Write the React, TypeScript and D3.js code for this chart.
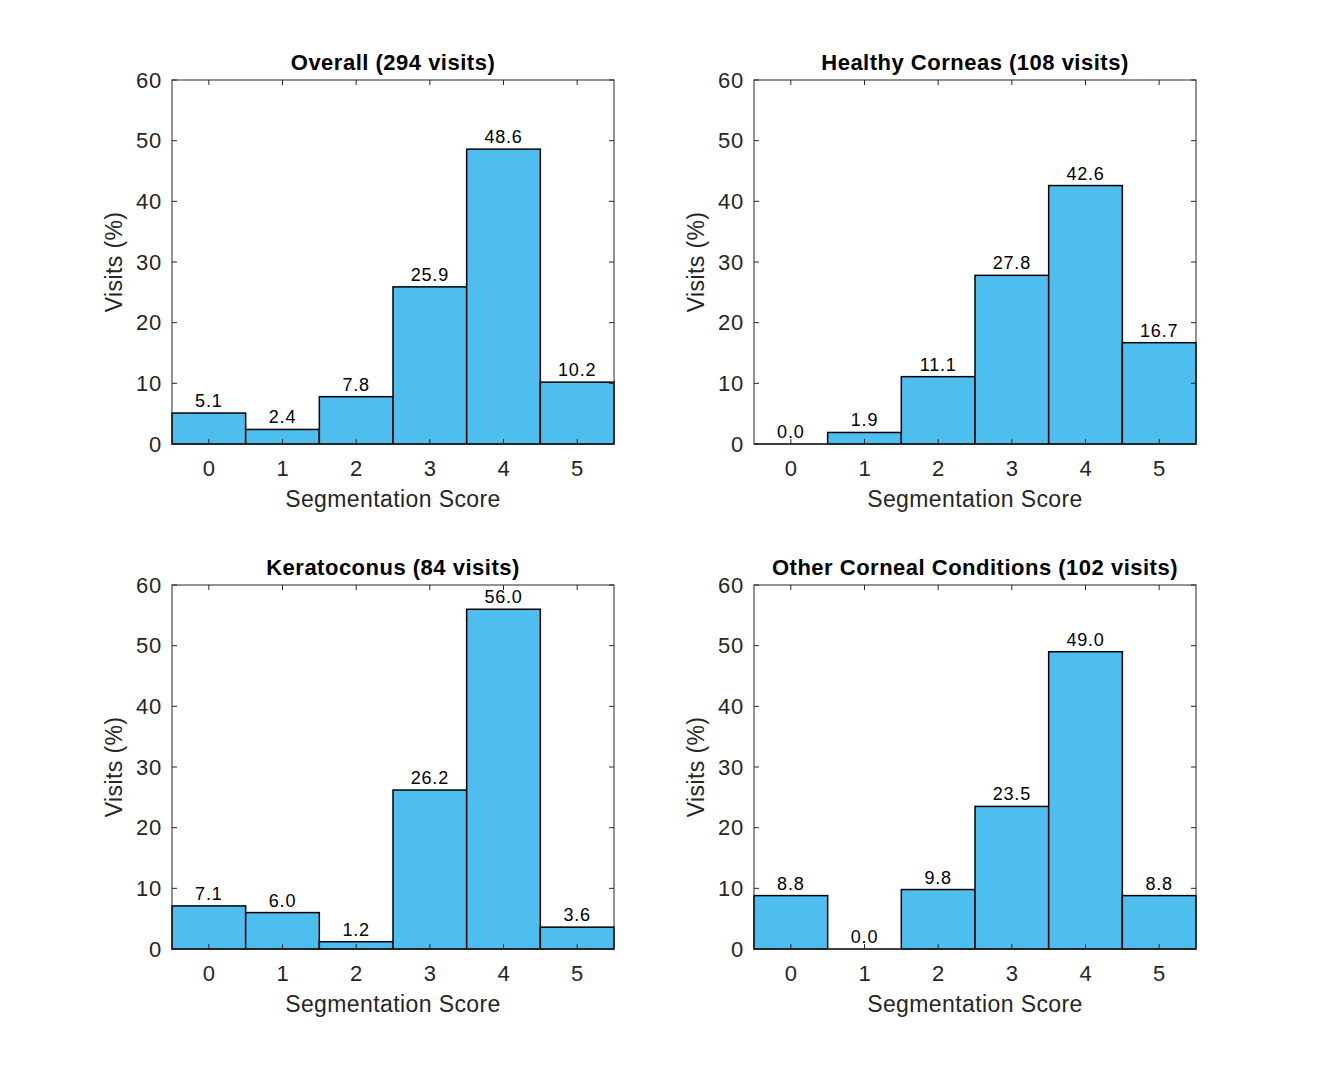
import React from "react";
import * as d3 from "d3";

const scores = [0, 1, 2, 3, 4, 5];
const yTicks = [0, 10, 20, 30, 40, 50, 60];
const titles = [
  "Overall (294 visits)",
  "Healthy Corneas (108 visits)",
  "Keratoconus (84 visits)",
  "Other Corneal Conditions (102 visits)",
];
const overall = [5.1, 2.4, 7.8, 25.9, 48.6, 10.2];
const healthy = [0.0, 1.9, 11.1, 27.8, 42.6, 16.7];
const keratoconus = [7.1, 6.0, 1.2, 26.2, 56.0, 3.6];
const other = [8.8, 0.0, 9.8, 23.5, 49.0, 8.8];
const series = [overall, healthy, keratoconus, other];

const W = 1322;
const H = 1066;
const panelW = 442;
const panelH = 364;
const lefts = [172, 754];
const tops = [80, 585];
const font = "'Liberation Sans', Arial, Helvetica, sans-serif";
const txt = "#262626";

const Panel = ({ title, values, x0, y0 }) => {
  const x = d3.scaleLinear().domain([-0.5, 5.5]).range([0, panelW]);
  const y = d3.scaleLinear().domain([0, 60]).range([panelH, 0]);
  const t = 5;
  return (
    <g transform={`translate(${x0},${y0})`}>
      {values.map((v, i) => (
        <rect
          key={i}
          x={x(scores[i] - 0.5)}
          y={y(v)}
          width={x(scores[i] + 0.5) - x(scores[i] - 0.5)}
          height={y(0) - y(v)}
          fill="#4DBEEE"
          stroke="#000"
          strokeWidth={1.5}
        />
      ))}
      {/* ticks point inward on all four sides */}
      {scores.map((s) => (
        <g key={s} stroke={txt} strokeWidth={1}>
          <line x1={x(s)} x2={x(s)} y1={panelH} y2={panelH - t} />
          <line x1={x(s)} x2={x(s)} y1={0} y2={t} />
        </g>
      ))}
      {yTicks.map((v) => (
        <g key={v} stroke={txt} strokeWidth={1}>
          <line x1={0} x2={t} y1={y(v)} y2={y(v)} />
          <line x1={panelW} x2={panelW - t} y1={y(v)} y2={y(v)} />
        </g>
      ))}
      <rect x={0} y={0} width={panelW} height={panelH} fill="none" stroke={txt} strokeWidth={1} />
      <line x1={0} x2={panelW} y1={panelH} y2={panelH} stroke={txt} strokeWidth={1.5} />
      {values.map((v, i) => (
        <text
          key={i}
          x={x(scores[i])}
          y={y(v) - 6}
          textAnchor="middle"
          fontSize={18}
          letterSpacing={0.8}
          fill="#000"
        >
          {v.toFixed(1)}
        </text>
      ))}
      {yTicks.map((v) => (
        <text key={v} x={-10} y={y(v)} dy="0.35em" textAnchor="end" fontSize={22} letterSpacing={0.8} fill={txt}>
          {v}
        </text>
      ))}
      {scores.map((s) => (
        <text key={s} x={x(s)} y={panelH + 32} textAnchor="middle" fontSize={22} fill={txt}>
          {s}
        </text>
      ))}
      <text x={panelW / 2} y={panelH + 63} textAnchor="middle" fontSize={23} letterSpacing={0.4} fill={txt}>
        Segmentation Score
      </text>
      <text
        transform={`translate(${-50},${panelH / 2}) rotate(-90)`}
        textAnchor="middle"
        fontSize={23}
        letterSpacing={0.4}
        fill={txt}
      >
        Visits (%)
      </text>
      <text
        x={panelW / 2}
        y={-10}
        textAnchor="middle"
        fontSize={22}
        letterSpacing={0.5}
        fontWeight="bold"
        fill="#000"
      >
        {title}
      </text>
    </g>
  );
};

export default function App() {
  return (
    <svg width={W} height={H} style={{ display: "block", fontFamily: font, margin: -8 }}>
      <rect width={W} height={H} fill="#fff" />
      {series.map((vals, k) => (
        <Panel
          key={k}
          title={titles[k]}
          values={vals}
          x0={lefts[k % 2]}
          y0={tops[Math.floor(k / 2)]}
        />
      ))}
    </svg>
  );
}
